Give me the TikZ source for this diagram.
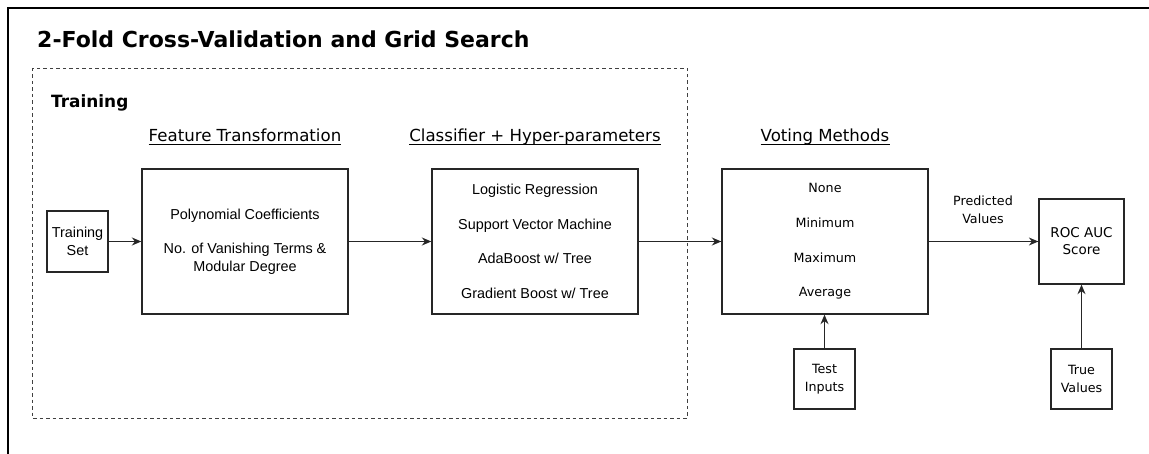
\documentclass[tikz,border=0pt]{standalone}
\usepackage{fontspec}
\setmainfont{DejaVu Sans}
\newfontfamily\arialfont{Liberation Sans}
\usetikzlibrary{arrows.meta}

\begin{document}
\begin{tikzpicture}[x=1pt, y=-1pt,
	every node/.style={inner sep=0pt, text=black},
	box/.style={draw=black!85, line width=1.3pt, align=center},
	arialtxt/.style={font=\arialfont\fontsize{14.4}{17.3}\selectfont},
	smalltxt/.style={font=\fontsize{12.7}{18}\selectfont},
	heading/.style={font=\fontsize{16.6}{20}\selectfont, anchor=base},
	link/.style={-{Stealth[length=9.5pt,width=8pt,inset=3pt]}, line width=1.3pt, draw=black!85}]
	\useasboundingbox (0,0) rectangle (1149,454);
	\draw[line width=1.8pt] (1149,8) -- (8,8) -- (8,454);
	\node[anchor=base west, font=\bfseries\fontsize{22}{26}\selectfont] (title) at (37,48) {2-Fold Cross-Validation and Grid Search};
	\draw[black!75, line width=0.8pt, dash pattern=on 3.5pt off 3pt] (32,68) rectangle (687,418);
	\node[anchor=base west, font=\bfseries\fontsize{16.9}{20}\selectfont] (training) at (51,108) {Training};
	% column headings
	\node[heading] (hfeat) at (245,142) {Feature Transformation};
	\node[heading] (hclf) at (535,142) {Classifier + Hyper-parameters};
	\node[heading] (hvote) at (825,142) {Voting Methods};
	\draw[line width=1pt] ([yshift=-2.6pt]hfeat.base west) -- ([yshift=-2.6pt]hfeat.base east);
	\draw[line width=1pt] ([yshift=-2.6pt]hclf.base west) -- ([yshift=-2.6pt]hclf.base east);
	\draw[line width=1pt] ([yshift=-2.6pt]hvote.base west) -- ([yshift=-2.6pt]hvote.base east);
	% boxes
	\node[box, arialtxt, minimum width=61pt, minimum height=61pt] (train) at (77.5,241.5) {Training\\Set};
	\node[box, arialtxt, minimum width=206pt, minimum height=145pt] (feat) at (245,241.5)
		{Polynomial Coefficients\\[17.3pt]No. of Vanishing Terms \&\\Modular Degree};
	\node[box, arialtxt, minimum width=206pt, minimum height=145pt] (clf) at (535,241.5)
		{Logistic Regression\\[17.3pt]Support Vector Machine\\[17.3pt]AdaBoost w/ Tree\\[17.3pt]Gradient Boost w/ Tree};
	\node[box, smalltxt, minimum width=206pt, minimum height=145pt] (vote) at (825,241.5)
		{None\\[16.7pt]Minimum\\[16.7pt]Maximum\\[16.7pt]Average};
	\node[box, font=\fontsize{13.5}{17}\selectfont, minimum width=85pt, minimum height=85pt] (roc) at (1081.5,241.5) {ROC AUC\\Score};
	\node[box, smalltxt, minimum width=61pt, minimum height=60pt] (test) at (824.5,379) {Test\\Inputs};
	\node[box, smalltxt, minimum width=61pt, minimum height=60pt] (truev) at (1081.5,379) {True\\Values};
	\node[smalltxt, align=center] (pred) at (983,210) {Predicted\\Values};
	% connectors
	\draw[link] (train.east) -- (feat.west);
	\draw[link] (feat.east) -- (clf.west);
	\draw[link] (clf.east) -- (vote.west);
	\draw[link] (vote.east) -- (roc.west);
	\draw[link] (test.north) -- (test.north |- vote.south);
	\draw[link] (truev.north) -- (roc.south);
\end{tikzpicture}
\end{document}
